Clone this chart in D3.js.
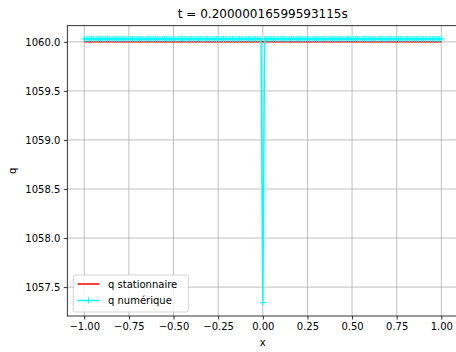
<!DOCTYPE html>
<html>
<head>
<meta charset="utf-8">
<script src="https://cdn.jsdelivr.net/npm/d3@7"></script>
<style>
html,body{margin:0;padding:0;background:#fff;}
svg{display:block;font-family:"DejaVu Sans",sans-serif;}
</style>
</head>
<body>
<svg id="chart" width="456" height="352"></svg>
<script>
const titleText = "t = 0.20000016599593115s";
const xLabel = "x";
const yLabel = "q";
const seriesNames = ["q stationnaire", "q numérique"];

const xs = [
-1,-0.99,-0.98,-0.97,-0.96,-0.95,-0.94,-0.93,-0.92,-0.91,
-0.9,-0.89,-0.88,-0.87,-0.86,-0.85,-0.84,-0.83,-0.82,-0.81,
-0.8,-0.79,-0.78,-0.77,-0.76,-0.75,-0.74,-0.73,-0.72,-0.71,
-0.7,-0.69,-0.68,-0.67,-0.66,-0.65,-0.64,-0.63,-0.62,-0.61,
-0.6,-0.59,-0.58,-0.57,-0.56,-0.55,-0.54,-0.53,-0.52,-0.51,
-0.5,-0.49,-0.48,-0.47,-0.46,-0.45,-0.44,-0.43,-0.42,-0.41,
-0.4,-0.39,-0.38,-0.37,-0.36,-0.35,-0.34,-0.33,-0.32,-0.31,
-0.3,-0.29,-0.28,-0.27,-0.26,-0.25,-0.24,-0.23,-0.22,-0.21,
-0.2,-0.19,-0.18,-0.17,-0.16,-0.15,-0.14,-0.13,-0.12,-0.11,
-0.1,-0.09,-0.08,-0.07,-0.06,-0.05,-0.04,-0.03,-0.02,-0.01,
0,
0.01,0.02,0.03,0.04,0.05,0.06,0.07,0.08,0.09,0.1,
0.11,0.12,0.13,0.14,0.15,0.16,0.17,0.18,0.19,0.2,
0.21,0.22,0.23,0.24,0.25,0.26,0.27,0.28,0.29,0.3,
0.31,0.32,0.33,0.34,0.35,0.36,0.37,0.38,0.39,0.4,
0.41,0.42,0.43,0.44,0.45,0.46,0.47,0.48,0.49,0.5,
0.51,0.52,0.53,0.54,0.55,0.56,0.57,0.58,0.59,0.6,
0.61,0.62,0.63,0.64,0.65,0.66,0.67,0.68,0.69,0.7,
0.71,0.72,0.73,0.74,0.75,0.76,0.77,0.78,0.79,0.8,
0.81,0.82,0.83,0.84,0.85,0.86,0.87,0.88,0.89,0.9,
0.91,0.92,0.93,0.94,0.95,0.96,0.97,0.98,0.99,1
];

const qStat = [
1060,1060,1060,1060,1060,1060,1060,1060,1060,1060,1060,1060,1060,1060,1060,1060,1060,1060,1060,1060,
1060,1060,1060,1060,1060,1060,1060,1060,1060,1060,1060,1060,1060,1060,1060,1060,1060,1060,1060,1060,
1060,1060,1060,1060,1060,1060,1060,1060,1060,1060,1060,1060,1060,1060,1060,1060,1060,1060,1060,1060,
1060,1060,1060,1060,1060,1060,1060,1060,1060,1060,1060,1060,1060,1060,1060,1060,1060,1060,1060,1060,
1060,1060,1060,1060,1060,1060,1060,1060,1060,1060,1060,1060,1060,1060,1060,1060,1060,1060,1060,1060,
1060,
1060,1060,1060,1060,1060,1060,1060,1060,1060,1060,1060,1060,1060,1060,1060,1060,1060,1060,1060,1060,
1060,1060,1060,1060,1060,1060,1060,1060,1060,1060,1060,1060,1060,1060,1060,1060,1060,1060,1060,1060,
1060,1060,1060,1060,1060,1060,1060,1060,1060,1060,1060,1060,1060,1060,1060,1060,1060,1060,1060,1060,
1060,1060,1060,1060,1060,1060,1060,1060,1060,1060,1060,1060,1060,1060,1060,1060,1060,1060,1060,1060,
1060,1060,1060,1060,1060,1060,1060,1060,1060,1060,1060,1060,1060,1060,1060,1060,1060,1060,1060,1060
];

const qNum = [
1060.03,1060.03,1060.03,1060.03,1060.03,1060.03,1060.03,1060.03,1060.03,1060.03,
1060.03,1060.03,1060.03,1060.03,1060.03,1060.03,1060.03,1060.03,1060.03,1060.03,
1060.03,1060.03,1060.03,1060.03,1060.03,1060.03,1060.03,1060.03,1060.03,1060.03,
1060.03,1060.03,1060.03,1060.03,1060.03,1060.03,1060.03,1060.03,1060.03,1060.03,
1060.03,1060.03,1060.03,1060.03,1060.03,1060.03,1060.03,1060.03,1060.03,1060.03,
1060.03,1060.03,1060.03,1060.03,1060.03,1060.03,1060.03,1060.03,1060.03,1060.03,
1060.03,1060.03,1060.03,1060.03,1060.03,1060.03,1060.03,1060.03,1060.03,1060.03,
1060.03,1060.03,1060.03,1060.03,1060.03,1060.03,1060.03,1060.03,1060.03,1060.03,
1060.03,1060.03,1060.03,1060.03,1060.03,1060.03,1060.03,1060.03,1060.03,1060.03,
1060.03,1060.03,1060.03,1060.03,1060.03,1060.03,1060.03,1060.03,1060.03,1060.03,
1057.34,
1060.03,1060.03,1060.03,1060.03,1060.03,1060.03,1060.03,1060.03,1060.03,1060.03,
1060.03,1060.03,1060.03,1060.03,1060.03,1060.03,1060.03,1060.03,1060.03,1060.03,
1060.03,1060.03,1060.03,1060.03,1060.03,1060.03,1060.03,1060.03,1060.03,1060.03,
1060.03,1060.03,1060.03,1060.03,1060.03,1060.03,1060.03,1060.03,1060.03,1060.03,
1060.03,1060.03,1060.03,1060.03,1060.03,1060.03,1060.03,1060.03,1060.03,1060.03,
1060.03,1060.03,1060.03,1060.03,1060.03,1060.03,1060.03,1060.03,1060.03,1060.03,
1060.03,1060.03,1060.03,1060.03,1060.03,1060.03,1060.03,1060.03,1060.03,1060.03,
1060.03,1060.03,1060.03,1060.03,1060.03,1060.03,1060.03,1060.03,1060.03,1060.03,
1060.03,1060.03,1060.03,1060.03,1060.03,1060.03,1060.03,1060.03,1060.03,1060.03,
1060.03,1060.03,1060.03,1060.03,1060.03,1060.03,1060.03,1060.03,1060.03,1060.03
];

const xTicks = [-1, -0.75, -0.5, -0.25, 0, 0.25, 0.5, 0.75, 1];
const yTicks = [1057.5, 1058, 1058.5, 1059, 1059.5, 1060];
const xDomain = [-1.095, 1.095];

const svg = d3.select("#chart");
const L = 67.3, R = 458.3, T = 25.7, B = 316;

const x = d3.scaleLinear().domain(xDomain).range([L, R]);
const yMin = d3.min(qNum.concat(qStat)), yMax = d3.max(qNum.concat(qStat));
const yPad = (yMax - yMin) * 0.05;
const y = d3.scaleLinear().domain([yMin - yPad, yMax + yPad]).range([B, T]);

const fmtX = v => d3.format(".2f")(v).replace("-", "\u2212");
const fmtY = v => d3.format(".1f")(v);

// grid
const grid = svg.append("g");
grid.selectAll("line.gx").data(xTicks).join("line")
  .attr("x1", d => x(d)).attr("x2", d => x(d)).attr("y1", T).attr("y2", B)
  .attr("stroke", "#b0b0b0").attr("stroke-width", 0.8);
grid.selectAll("line.gy").data(yTicks).join("line")
  .attr("y1", d => y(d)).attr("y2", d => y(d)).attr("x1", L).attr("x2", R)
  .attr("stroke", "#b0b0b0").attr("stroke-width", 0.8);

// clip
svg.append("defs").append("clipPath").attr("id", "clip")
  .append("rect").attr("x", L).attr("y", T).attr("width", R - L).attr("height", B - T);

const plot = svg.append("g").attr("clip-path", "url(#clip)");
const line = d3.line().x(d => x(d[0])).y(d => y(d[1]));

plot.append("path").datum(xs.map((v, i) => [v, qStat[i]]))
  .attr("d", line).attr("fill", "none").attr("stroke", "red").attr("stroke-width", 1.5);

const numData = xs.map((v, i) => [v, qNum[i]]);
plot.append("path").datum(numData)
  .attr("d", line).attr("fill", "none").attr("stroke", "cyan").attr("stroke-width", 1.5)
  .attr("stroke-linejoin", "round");

const ms = 3;
plot.append("path")
  .attr("d", numData.map(d => {
    const px = x(d[0]), py = y(d[1]);
    return `M${px - ms},${py}H${px + ms}M${px},${py - ms}V${py + ms}`;
  }).join(""))
  .attr("fill", "none").attr("stroke", "cyan").attr("stroke-width", 1);

// axes
const xAxis = d3.axisBottom(x).tickValues(xTicks).tickFormat(fmtX).tickSize(3.5).tickPadding(3.5);
const gx = svg.append("g").attr("transform", `translate(0,${B})`).call(xAxis);
const yAxis = d3.axisLeft(y).tickValues(yTicks).tickFormat(fmtY).tickSize(3.5).tickPadding(3.5);
const gy = svg.append("g").attr("transform", `translate(${L},0)`).call(yAxis);
[gx, gy].forEach(g => {
  g.select(".domain").remove();
  g.selectAll("line").attr("stroke", "#000").attr("stroke-width", 0.8);
  g.selectAll("text").attr("font-size", 10).attr("fill", "#000")
    .attr("font-family", "DejaVu Sans, sans-serif");
});

// spines
svg.append("rect").attr("x", L).attr("y", T).attr("width", R - L).attr("height", B - T)
  .attr("fill", "none").attr("stroke", "#000").attr("stroke-width", 0.8);

// labels
svg.append("text").attr("x", (L + R) / 2).attr("y", 17.5).attr("text-anchor", "middle")
  .attr("font-size", 12).text(titleText);
svg.append("text").attr("x", (L + R) / 2).attr("y", 346).attr("text-anchor", "middle")
  .attr("font-size", 10).text(xLabel);
svg.append("text").attr("transform", `translate(16,${(T + B) / 2}) rotate(-90)`)
  .attr("text-anchor", "middle").attr("font-size", 10).text(yLabel);

// legend
const lg = svg.append("g");
lg.append("rect").attr("x", 73.3).attr("y", 275).attr("width", 115).attr("height", 37)
  .attr("rx", 2).attr("fill", "#fff").attr("fill-opacity", 0.8)
  .attr("stroke", "#cccccc").attr("stroke-width", 0.8);
const rows = [
  {name: seriesNames[0], color: "red", marker: false, yy: 284},
  {name: seriesNames[1], color: "cyan", marker: true, yy: 300.5}
];
rows.forEach(r => {
  lg.append("line").attr("x1", 77.5).attr("x2", 99.5).attr("y1", r.yy).attr("y2", r.yy)
    .attr("stroke", r.color).attr("stroke-width", 1.5);
  if (r.marker) {
    lg.append("path").attr("d", `M${88.5 - ms},${r.yy}H${88.5 + ms}M88.5,${r.yy - ms}V${r.yy + ms}`)
      .attr("stroke", r.color).attr("stroke-width", 1).attr("fill", "none");
  }
  lg.append("text").attr("x", 108).attr("y", r.yy + 3.5).attr("font-size", 10).text(r.name);
});
</script>
</body>
</html>
